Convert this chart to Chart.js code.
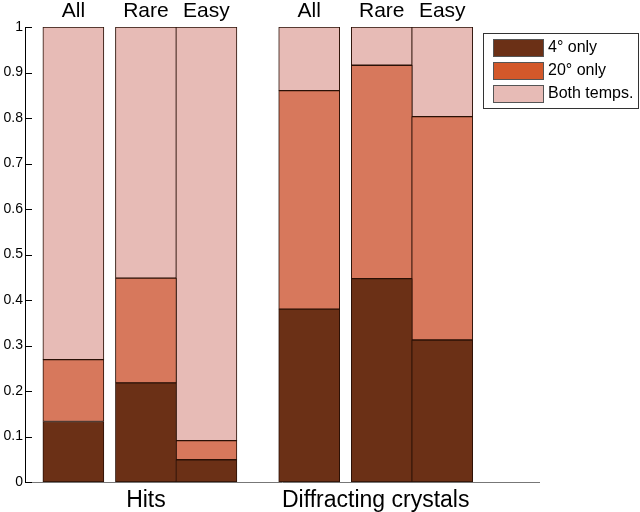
<!DOCTYPE html>
<html>
<head>
<meta charset="utf-8">
<script src="https://cdn.jsdelivr.net/npm/chart.js@4/dist/chart.umd.min.js"></script>
<style>
    html, body { margin: 0; padding: 0; background: #ffffff; }
    #chartBox { width: 640px; height: 512px; }
</style>
</head>
<body>
<div id="chartBox"><canvas id="chartArea"></canvas></div>
<script>
// bar names (top), groups (bottom)
var barNames = ['All', 'Rare', 'Easy', 'All', 'Rare', 'Easy'];
var xPositions = [0.8, 2.0, 3.0, 4.7, 5.9, 6.9];
var groupNames = ['Hits', 'Diffracting crystals'];
var groupPositions = [2.0, 5.8];

// fractions per bar
var seriesLabels = ['4\u00b0 only', '20\u00b0 only', 'Both temps.'];
var only4 = [0.133, 0.218, 0.049, 0.380, 0.447, 0.312];
var only20 = [0.136, 0.230, 0.042, 0.480, 0.469, 0.491];
var bothTemps = [0.731, 0.552, 0.909, 0.140, 0.084, 0.197];
var yTicks = [0, 0.1, 0.2, 0.3, 0.4, 0.5, 0.6, 0.7, 0.8, 0.9, 1];

var barColors = ['#6b3016', '#d7785c', '#e7bbb6'];
var legendColors = ['#6b3016', '#d3582a', '#e7bbb6'];
var fontName = "'Liberation Sans', Arial, sans-serif";

function toPoints(vals) {
    return xPositions.map(function (x, i) { return { x: x, y: vals[i] }; });
}

function makeSet(i, vals) {
    return {
        label: seriesLabels[i],
        data: toPoints(vals),
        backgroundColor: barColors[i],
        borderColor: '#2a1006',
        borderWidth: 1,
        borderSkipped: false,
        barThickness: 61
    };
}

// inward y ticks + boxed legend
var extras = {
    id: 'extras',
    afterDraw: function (chart) {
        var c = chart.ctx, area = chart.chartArea, ys = chart.scales.y;
        c.save();
        c.strokeStyle = '#000';
        c.lineWidth = 1;
        yTicks.forEach(function (t) {
            var py = Math.round(ys.getPixelForValue(t)) + 0.5;
            c.beginPath();
            c.moveTo(area.left, py);
            c.lineTo(area.left + 7, py);
            c.stroke();
        });

        var bx = area.right - 56, by = 33, bw = 155, bh = 75;
        c.fillStyle = '#fff';
        c.fillRect(bx, by, bw, bh);
        c.strokeStyle = '#333';
        c.strokeRect(bx + 0.5, by + 0.5, bw, bh);
        c.font = '16px ' + fontName;
        c.textBaseline = 'middle';
        for (var i = 0; i < seriesLabels.length; i++) {
            var ry = by + 6 + i * 23;
            c.fillStyle = legendColors[i];
            c.fillRect(bx + 10, ry, 50, 17);
            c.strokeStyle = '#555';
            c.strokeRect(bx + 10.5, ry + 0.5, 50, 17);
            c.fillStyle = '#000';
            c.fillText(seriesLabels[i], bx + 65, ry + 9);
        }
        c.restore();
    }
};

var config = {
    type: 'bar',
    data: {
        datasets: [makeSet(0, only4), makeSet(1, only20), makeSet(2, bothTemps)]
    },
    options: {
        responsive: true,
        maintainAspectRatio: false,
        animation: false,
        layout: { padding: { left: 0, right: 101, top: 0, bottom: 0 } },
        plugins: {
            legend: { display: false },
            tooltip: { enabled: false }
        },
        scales: {
            x: {
                type: 'linear',
                min: 0,
                max: 8.5,
                stacked: true,
                offset: false,
                grid: { display: false, offset: false },
                border: { display: true, color: '#777', width: 1 },
                afterBuildTicks: function (axis) {
                    axis.ticks = groupPositions.map(function (v) { return { value: v }; });
                },
                afterFit: function (axis) { axis.height = 30; },
                ticks: {
                    autoSkip: false,
                    maxRotation: 0,
                    padding: -3,
                    color: '#000',
                    font: { family: fontName, size: 23 },
                    callback: function (v, i) { return groupNames[i]; }
                }
            },
            xTop: {
                type: 'linear',
                position: 'top',
                min: 0,
                max: 8.5,
                offset: false,
                grid: { display: false, drawTicks: false },
                border: { display: false },
                afterBuildTicks: function (axis) {
                    axis.ticks = xPositions.map(function (v) { return { value: v }; });
                },
                afterFit: function (axis) { axis.height = 27; },
                ticks: {
                    autoSkip: false,
                    maxRotation: 0,
                    padding: 3,
                    color: '#000',
                    font: { family: fontName, size: 21 },
                    callback: function (v, i) { return barNames[i]; }
                }
            },
            y: {
                min: 0,
                max: 1,
                stacked: true,
                grid: { display: false, drawTicks: false },
                border: { display: true, color: '#000', width: 1 },
                afterBuildTicks: function (axis) {
                    axis.ticks = yTicks.map(function (v) { return { value: v }; });
                },
                afterFit: function (axis) { axis.width = 25; },
                ticks: {
                    padding: 2,
                    color: '#000',
                    font: { family: fontName, size: 14 },
                    callback: function (v) { return String(Math.round(v * 10) / 10); }
                }
            }
        }
    },
    plugins: [extras]
};

var ctx = document.getElementById('chartArea').getContext('2d');
var myNewChart = new Chart(ctx, config);
</script>
</body>
</html>
